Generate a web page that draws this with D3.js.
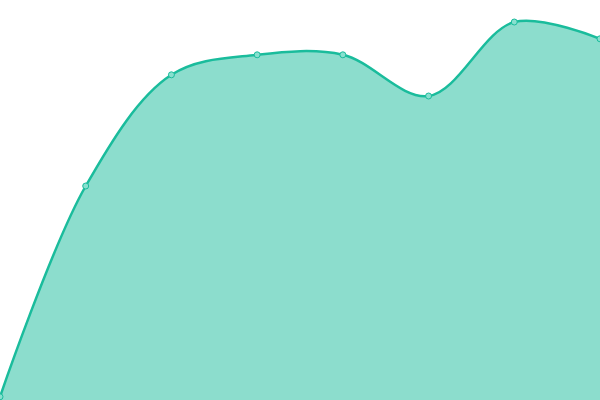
<!DOCTYPE html>
<html lang="en">
<head>
<meta charset="UTF-8">
<title>Area</title>
<script src="https://cdnjs.cloudflare.com/ajax/libs/d3/7.8.5/d3.min.js"></script>
<style>
  body { margin: 0; background: #fff; }
</style>
</head>
<body>
<div id="chart"></div>
<script>
  var categories = ["A", "B", "C", "D", "E", "F", "G", "H"];
  var values = [0.8, 53.5, 81.3, 86.3, 86.3, 76, 94.5, 90.3];

  var width = 600, height = 400;

  var x = d3.scalePoint().domain(categories).range([0, width]);
  var y = d3.scaleLinear().domain([0, 100]).range([height, 0]);

  var svg = d3.select("#chart").append("svg")
    .attr("width", width)
    .attr("height", height);

  var data = categories.map((c, i) => ({ c: c, v: values[i] }));

  var area = d3.area()
    .x(d => x(d.c))
    .y0(height)
    .y1(d => y(d.v))
    .curve(d3.curveCatmullRom);

  var line = d3.line()
    .x(d => x(d.c))
    .y(d => y(d.v))
    .curve(d3.curveCatmullRom);

  svg.append("path")
    .datum(data)
    .attr("d", area)
    .attr("fill", "#1abc9c")
    .attr("fill-opacity", 0.5);

  svg.append("path")
    .datum(data)
    .attr("d", line)
    .attr("fill", "none")
    .attr("stroke", "#1abc9c")
    .attr("stroke-width", 2.5);

  svg.selectAll("circle")
    .data(data)
    .enter()
    .append("circle")
    .attr("cx", d => x(d.c))
    .attr("cy", d => y(d.v))
    .attr("r", 3)
    .attr("fill", "#88e0cf")
    .attr("stroke", "#1abc9c")
    .attr("stroke-width", 1);
</script>
</body>
</html>
